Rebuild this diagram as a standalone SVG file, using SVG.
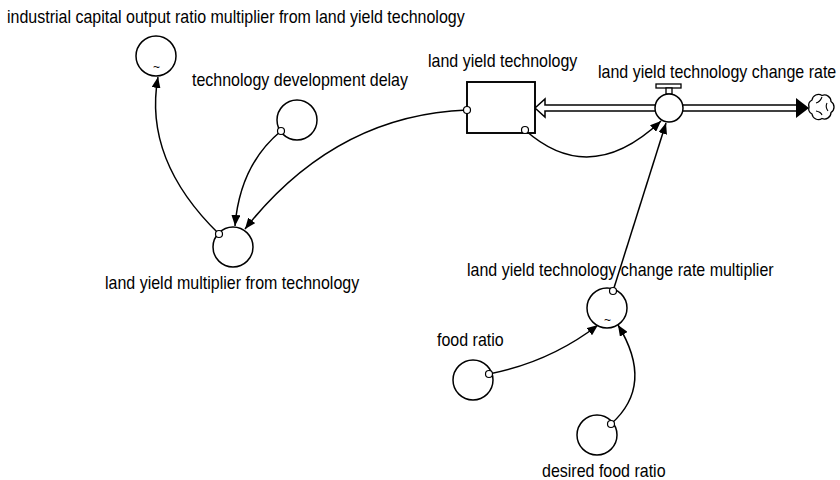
<svg xmlns="http://www.w3.org/2000/svg" width="840" height="480" viewBox="0 0 840 480">
<style>
text{font-family:"Liberation Sans",Arial,sans-serif;font-size:18px;fill:#000}
.aux{fill:#fff;stroke:#000;stroke-width:1.5}
.lnk{fill:none;stroke:#000;stroke-width:1.5}
.org{fill:#fff;stroke:#000;stroke-width:1.2}
.tl{font-size:12px}
</style>
<defs>
<marker id="ah" viewBox="0 0 11 9" refX="11" refY="4.5" markerWidth="11" markerHeight="9" markerUnits="userSpaceOnUse" orient="auto">
<path d="M0,0 L11,4.5 L0,9 Z" fill="#000"/>
</marker>
</defs>
<rect width="840" height="480" fill="#fff"/>

<g id="connectors">
<path class="lnk" d="M219,234 Q143,160 158,77" marker-end="url(#ah)"/>
<path class="lnk" d="M281,131 Q240,165 235,226" marker-end="url(#ah)"/>
<path class="lnk" d="M467,110 Q335,115 245,229" marker-end="url(#ah)"/>
<path class="lnk" d="M525,130 Q590,188 661,121" marker-end="url(#ah)"/>
<path class="lnk" d="M613,291 L666,123" marker-end="url(#ah)"/>
<path class="lnk" d="M489,374 Q550,362 598,325" marker-end="url(#ah)"/>
<path class="lnk" d="M611,424 Q655,385 618,325" marker-end="url(#ah)"/>
</g>

<g id="flow">
<line x1="543" y1="105" x2="656" y2="105" stroke="#000" stroke-width="1.5"/>
<line x1="543" y1="111" x2="656" y2="111" stroke="#000" stroke-width="1.5"/>
<line x1="683" y1="105" x2="798" y2="105" stroke="#000" stroke-width="1.5"/>
<line x1="683" y1="111" x2="798" y2="111" stroke="#000" stroke-width="1.5"/>
<polygon points="535,108 545,99 545,117" fill="#fff" stroke="#000" stroke-width="1.5"/>
<line x1="545" y1="105.8" x2="545" y2="110.2" stroke="#fff" stroke-width="2"/>
<polygon points="796,98 809,108 796,118" fill="#000"/>
</g>

<g id="cloud">
<path d="M812,100 a6.5,6.5 0 0 1 10,-4.5 a6.5,6.5 0 0 1 9,6 a6.5,6.5 0 0 1 0,11 a6.5,6.5 0 0 1 -9,6 a6.5,6.5 0 0 1 -10,-4.5 a6,6 0 0 1 -3,-7 a6,6 0 0 1 3,-7 Z" fill="#fff" stroke="#000" stroke-width="1.3"/>
<path d="M816,103 q4,-1 6,-6 M827,103 q-2,4 1,8 M822,115 q-1,-3 -6,-4" fill="none" stroke="#000" stroke-width="1.1"/>
</g>

<g id="land-yield-technology-change-rate">
<rect x="656" y="84" width="25" height="4" fill="#fff" stroke="#000" stroke-width="1.3"/>
<rect x="666" y="88" width="6" height="6" fill="#fff" stroke="#000" stroke-width="1.3"/>
<circle class="aux" cx="669" cy="108" r="14"/>
<text transform="translate(598,78) scale(0.889,1)">land yield technology change rate</text>
</g>

<g id="land-yield-technology">
<rect x="467" y="82" width="68" height="51" fill="#fff" stroke="#000" stroke-width="1.9"/>
<circle class="org" cx="467" cy="110" r="3.5"/>
<circle class="org" cx="525" cy="130" r="3.5"/>
<text transform="translate(428,67) scale(0.889,1)">land yield technology</text>
</g>

<g id="icor-multiplier">
<circle class="aux" cx="156" cy="56" r="20"/>
<text class="tl" x="153" y="71">~</text>
<text transform="translate(7,23) scale(0.889,1)">industrial capital output ratio multiplier from land yield technology</text>
</g>

<g id="technology-development-delay">
<circle class="aux" cx="297" cy="120" r="20"/>
<circle class="org" cx="281" cy="131" r="3.5"/>
<text transform="translate(192,86) scale(0.889,1)">technology development delay</text>
</g>

<g id="land-yield-multiplier-from-technology">
<circle class="aux" cx="233" cy="247" r="20"/>
<circle class="org" cx="219" cy="234" r="3.5"/>
<text transform="translate(105,289) scale(0.889,1)">land yield multiplier from technology</text>
</g>

<g id="land-yield-technology-change-rate-multiplier">
<circle class="aux" cx="607" cy="308" r="20"/>
<text class="tl" x="604" y="324">~</text>
<circle class="org" cx="613" cy="291" r="3.5"/>
<text transform="translate(467,276) scale(0.889,1)">land yield technology change rate multiplier</text>
</g>

<g id="food-ratio">
<circle class="aux" cx="473" cy="380" r="20"/>
<circle class="org" cx="489" cy="374" r="3.5"/>
<text transform="translate(437,346) scale(0.889,1)">food ratio</text>
</g>

<g id="desired-food-ratio">
<circle class="aux" cx="597" cy="435" r="20"/>
<circle class="org" cx="611" cy="424" r="3.5"/>
<text transform="translate(542,477) scale(0.889,1)">desired food ratio</text>
</g>
</svg>
